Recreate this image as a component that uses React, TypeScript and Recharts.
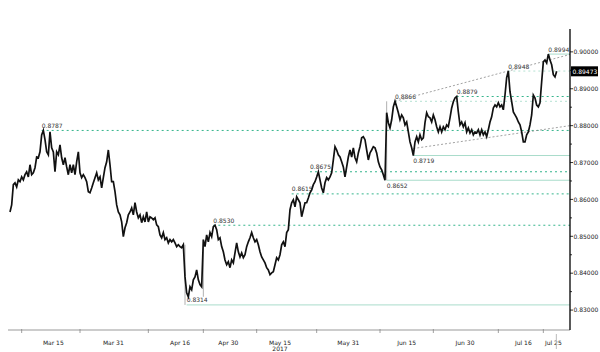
import React from "react";
import { LineChart, Line, XAxis, YAxis, ReferenceLine } from "recharts";

// closes, evenly spaced in time (Mar -> Jul 25, 2017)
const closes = [
  0.8566, 0.8585, 0.864, 0.8645, 0.8634, 0.8653, 0.8648, 0.8661, 0.8653, 0.8667,
  0.8675, 0.8661, 0.8694, 0.8667, 0.8672, 0.8686, 0.8715, 0.8713, 0.8729, 0.8775,
  0.8787, 0.8762, 0.8729, 0.8721, 0.8783, 0.874, 0.8729, 0.8675, 0.8729, 0.8721,
  0.8748, 0.8713, 0.8694, 0.8713, 0.8688, 0.8667, 0.8694, 0.8672, 0.8694, 0.8667,
  0.8702, 0.8729, 0.8672, 0.8659, 0.8667, 0.8659, 0.8648, 0.8621, 0.8618, 0.8631,
  0.8645, 0.8659, 0.8672, 0.8653, 0.8661, 0.8631, 0.8659, 0.8686, 0.8702, 0.8734,
  0.8694, 0.8648, 0.8648, 0.8621, 0.8585, 0.8566, 0.8558, 0.8539, 0.8499, 0.8523,
  0.8537, 0.8558, 0.8566, 0.8577, 0.8558, 0.8591, 0.8566, 0.855, 0.8558, 0.8537,
  0.8553, 0.8539, 0.8566, 0.8539,
  0.8553, 0.855, 0.8545, 0.855, 0.8531, 0.8526, 0.8504, 0.8496, 0.851, 0.8491,
  0.8496, 0.8482, 0.8491, 0.8485, 0.8491, 0.8482, 0.8472, 0.8477, 0.8472, 0.8469,
  0.8477, 0.839, 0.8347, 0.8336, 0.8363, 0.8355, 0.8382, 0.839, 0.8409, 0.8382,
  0.8369, 0.8363, 0.8491, 0.8472, 0.8504, 0.8485, 0.851, 0.8499, 0.8526, 0.853,
  0.8518, 0.8491, 0.8496, 0.8472, 0.8458, 0.8436, 0.8423, 0.8431, 0.8415, 0.8436,
  0.8428, 0.8455, 0.8482, 0.8458, 0.8444, 0.8455, 0.8442, 0.845, 0.8472, 0.8485,
  0.8496, 0.851, 0.8496, 0.8485, 0.8491, 0.8477, 0.8458, 0.8444, 0.8436, 0.8428,
  0.8415, 0.8409, 0.8396, 0.8401, 0.8404, 0.8423, 0.8442, 0.8436, 0.845, 0.8477,
  0.8485, 0.8472, 0.851, 0.8518,
  0.8572, 0.8591, 0.8599, 0.858, 0.8607, 0.8599, 0.8591, 0.8553, 0.8572, 0.8591,
  0.8591, 0.8604, 0.8618, 0.8626, 0.864, 0.8648, 0.8661, 0.8675, 0.8653, 0.8631,
  0.8618, 0.8645, 0.8659, 0.8653, 0.8661, 0.8672, 0.8707, 0.8743, 0.8734, 0.8721,
  0.8715, 0.8702, 0.8688, 0.8661, 0.8688, 0.8715, 0.8734, 0.8715, 0.874, 0.8713,
  0.8702, 0.8726, 0.8743, 0.8767, 0.877, 0.8762, 0.8734, 0.8707, 0.8726, 0.8734,
  0.8743, 0.874, 0.8726, 0.8702, 0.8688, 0.868, 0.8667, 0.8652, 0.8835, 0.8808,
  0.8794, 0.8816, 0.8851, 0.8866, 0.8851, 0.8835, 0.8816, 0.8829, 0.8821, 0.8802,
  0.881, 0.8783, 0.8756, 0.874, 0.8719, 0.8756, 0.877, 0.8756, 0.8775, 0.8762,
  0.8767, 0.8808, 0.8835, 0.8824,
  0.8821, 0.881, 0.8829, 0.8816, 0.8797, 0.8783, 0.8797, 0.8783, 0.8797, 0.8789,
  0.8802, 0.8797, 0.8821, 0.8848, 0.8865, 0.8875, 0.8879, 0.8837, 0.8802, 0.881,
  0.8797, 0.8808, 0.8783, 0.8794, 0.878, 0.8789, 0.8775, 0.8783, 0.878, 0.8789,
  0.8775, 0.8789, 0.8775, 0.8783, 0.877, 0.8789, 0.881, 0.8824, 0.8848, 0.8856,
  0.8851, 0.8862, 0.8851, 0.8856, 0.8843, 0.8883, 0.893, 0.8948, 0.8892, 0.8865,
  0.8837, 0.8829, 0.8821, 0.881, 0.8802, 0.8783, 0.8756, 0.8756, 0.8775, 0.8783,
  0.8802, 0.8829, 0.8883, 0.8875, 0.8856, 0.8851, 0.8862, 0.8919, 0.8973, 0.8978,
  0.897, 0.8994, 0.8978, 0.8965, 0.8938, 0.8932, 0.89473,
];
const lastPrice = 0.89473;

const dateLabels = ["Mar 15", "Mar 31", "Apr 16", "Apr 30", "May 15", "May 31", "Jun 15", "Jun 30", "Jul 16", "Jul 25"];
const dateLabelAt = [26, 62, 102, 131, 162, 203, 238, 273, 308, 326];
const periodBreaks = [7, 42, 83, 116, 148, 184, 222, 254, 293, 320];

const majorTicks = [0.83, 0.84, 0.85, 0.86, 0.87, 0.88, 0.89, 0.9];
const minorTicks = [0.835, 0.845, 0.855, 0.865, 0.875, 0.885, 0.895];

// support / resistance levels marked on the chart
const levels = [0.8787, 0.853, 0.8314, 0.8615, 0.8675, 0.8652, 0.8719, 0.8866, 0.8879, 0.8948, 0.8994];
const levelFrom = [19, 122, 106, 169, 180, 226, 242, 231, 268, 299, 323];
const levelKind = ["dot", "dot", "solid", "dot", "dot", "solid", "solid", "faint", "dot", "faint", "solid"];
const levelBelow = [false, false, false, false, false, true, true, false, false, false, false];

// channel trend lines
const channelTop = [0.8866, 0.8993];
const channelBottom = [0.8738, 0.88];
const channelFrom = [231, 242];

// weekend gap wicks (grey)
const gapAt = [105, 116, 226];
const gapLow = [0.8314, 0.8336, 0.8652];
const gapHigh = [0.8477, 0.8491, 0.8866];

const X_MAX = 336;
const font = "'DejaVu Sans', sans-serif";
const data = closes.map((v, i) => ({ i, v }));

const kindStyle: Record<string, any> = {
  dot: { stroke: "#35b58c", strokeDasharray: "2 3", strokeWidth: 1 },
  faint: { stroke: "#b4e2d2", strokeDasharray: "2 3", strokeWidth: 1 },
  solid: { stroke: "#a9dccb", strokeWidth: 1 },
};

function PriceTick(props: any) {
  const { x, y, payload } = props;
  const v: number = payload.value;
  if (v === lastPrice) {
    return (
      <g>
        <rect x={x + 1} y={y - 5} width={27} height={10} fill="#000" />
        <text x={x + 2.5} y={y + 2.2} fill="#fff" fontSize={6} fontFamily={font}>
          {v.toFixed(5)}
        </text>
      </g>
    );
  }
  const major = majorTicks.includes(v);
  return (
    <g>
      <line x1={x} x2={x + (major ? 3 : 2)} y1={y} y2={y} stroke="#000" strokeWidth={0.8} />
      {major && (
        <text x={x + 3.5} y={y + 2.2} fill="#222" fontSize={6} fontFamily={font}>
          {v.toFixed(5)}
        </text>
      )}
    </g>
  );
}

function DateTick(props: any) {
  const { x, y, payload } = props;
  const k = dateLabelAt.indexOf(payload.value);
  if (k < 0) return <line x1={x} x2={x} y1={y - 1} y2={y + 3} stroke="#888" strokeWidth={0.8} />;
  return (
    <g>
      <text x={x} y={y + 15} textAnchor="middle" fill="#222" fontSize={6} fontFamily={font}>
        {dateLabels[k]}
      </text>
      {dateLabels[k] === "May 15" && (
        <text x={x} y={y + 21} textAnchor="middle" fill="#222" fontSize={6} fontFamily={font}>
          2017
        </text>
      )}
      {k === dateLabels.length - 1 && (
        <line x1={x + 3} x2={x + 3} y1={y + 4} y2={y + 19} stroke="#bbb" strokeWidth={1} />
      )}
    </g>
  );
}

const levelLabel = (text: string, below: boolean) => (p: any) => {
  const vb = p.viewBox || {};
  return (
    <text x={vb.x} y={vb.y + (below ? 7.5 : -2.5)} fill="#333" fontSize={6} fontFamily={font}>
      {text}
    </text>
  );
};

export default function App() {
  return (
    <div style={{ position: "absolute", left: 0, top: 0, width: 600, height: 352, background: "#fff" }}>
      <LineChart width={600} height={352} data={data} margin={{ top: 29, right: 0, bottom: 0, left: 8 }}>
        <XAxis
          dataKey="i"
          type="number"
          domain={[-1.2, X_MAX]}
          ticks={[...periodBreaks, ...dateLabelAt].sort((a, b) => a - b)}
          interval={0}
          tick={<DateTick />}
          tickLine={false}
          tickSize={0}
          tickMargin={0}
          height={22}
          axisLine={{ stroke: "#999", strokeWidth: 1 }}
          allowDataOverflow
        />
        <YAxis
          orientation="right"
          type="number"
          domain={[0.8246, 0.9062]}
          ticks={[...majorTicks, ...minorTicks, lastPrice].sort((a, b) => a - b)}
          interval={0}
          tick={<PriceTick />}
          tickLine={false}
          tickSize={0}
          tickMargin={0}
          width={30}
          axisLine={{ stroke: "#000", strokeWidth: 1.3 }}
          allowDataOverflow
        />
        {levels.map((lv, k) => (
          <ReferenceLine
            key={lv}
            segment={[
              { x: levelFrom[k], y: lv },
              { x: X_MAX, y: lv },
            ]}
            {...kindStyle[levelKind[k]]}
            label={levelLabel(lv.toFixed(4), levelBelow[k])}
          />
        ))}
        <ReferenceLine
          segment={[
            { x: channelFrom[0], y: channelTop[0] },
            { x: X_MAX, y: channelTop[1] },
          ]}
          stroke="#8a8a8a"
          strokeDasharray="2 2"
          strokeWidth={0.8}
        />
        <ReferenceLine
          segment={[
            { x: channelFrom[1], y: channelBottom[0] },
            { x: X_MAX, y: channelBottom[1] },
          ]}
          stroke="#8a8a8a"
          strokeDasharray="2 2"
          strokeWidth={0.8}
        />
        {gapAt.map((g, k) => (
          <ReferenceLine
            key={"gap" + g}
            segment={[
              { x: g, y: gapLow[k] },
              { x: g, y: gapHigh[k] },
            ]}
            stroke="#b0b0b0"
            strokeWidth={1}
          />
        ))}
        <Line
          type="linear"
          dataKey="v"
          stroke="#111"
          strokeWidth={1.7}
          dot={false}
          isAnimationActive={false}
        />
      </LineChart>
    </div>
  );
}
